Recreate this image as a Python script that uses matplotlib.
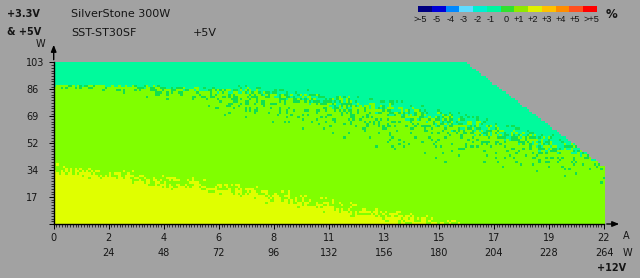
import numpy as np
import matplotlib
matplotlib.use("Agg")
import matplotlib.pyplot as plt
from matplotlib.patches import Rectangle, FancyArrowPatch

# ---------------- data ----------------
amps_pts = [0, 2, 4, 6, 8, 10, 12, 14, 16, 18, 20, 22]              # +12V current (A)
aqua_edge_w = [88.5, 88, 87, 85.5, 84, 80, 76, 71, 64, 57, 50, 44]   # -1% / +1% border (W on 3.3V&5V)
aqua_mix_w = [1, 1, 2, 2, 3, 4, 5, 5, 6, 6, 6, 6]
dots_below_w = [3, 5, 8, 14, 20, 24, 26, 26, 26, 24, 22, 20]         # 0% speckle depth below border
dots_above_w = [0.5, 1, 2, 3, 5, 6, 8, 9, 10, 10, 9, 8]              # 0% speckle depth above border
yellow_edge_w = [35, 31.5, 28, 24, 20, 14.5, 9, 4, -1, -7, -13, -19]  # +1% / +2% border
yellow_mix_w = [4, 4, 5, 5, 5.5, 5.5, 5, 5, 4, 3, 3, 3]
rail_max_w = 103          # max combined 3.3V & 5V load
total_max_w = 300         # total PSU rating
v12 = 12.0

x_major_labels = ["0", "2", "4", "6", "8", "11", "13", "15", "17", "19", "22"]
x_watt_labels = ["", "24", "48", "72", "96", "132", "156", "180", "204", "228", "264"]
y_major_labels = ["", "17", "34", "52", "69", "86", "103"]

legend_labels = [">-5", "-5", "-4", "-3", "-2", "-1", "0", "+1", "+2", "+3", "+4", "+5", ">+5"]
legend_colors = ["#000080", "#0000d8", "#0088ff", "#60dcff", "#00f0d0", "#00f5a0", "#30e030",
                 "#90e800", "#e0f000", "#ffc000", "#ff8c00", "#ff5020", "#ff0000"]
legend_label_px = [420, 437, 451, 464, 478, 491, 506, 519, 533, 547, 561, 575, 591]

c_aqua = "#00fa9c"
c_green = "#10e050"
c_chart = "#80ff00"
c_yellow = "#e0ff00"
bg = "#a2a2a2"
txt = "#151515"
plt.rcParams["font.family"] = ["DejaVu Sans"]

# ---------------- figure ----------------
W_PX, H_PX = 640, 278
fig = plt.figure(figsize=(W_PX / 100, H_PX / 100), dpi=100, facecolor=bg)
fx = lambda px: px / W_PX
fy = lambda py: 1 - py / H_PX

x0, x1, ytop, ybot = 53.7, 604.0, 62.5, 224.0
ax = fig.add_axes([fx(x0), fy(ybot), fx(x1) - fx(x0), (ybot - ytop) / H_PX])
ax.set_facecolor(bg)

amax = 22.0
nx, ny = 240, 72
a_c = (np.arange(nx) + 0.5) * amax / nx
w_c = (np.arange(ny) + 0.5) * rail_max_w / ny
A, Wg = np.meshgrid(a_c, w_c)
I, J = np.meshgrid(np.arange(nx, dtype=np.uint64), np.arange(ny, dtype=np.uint64))

ae = np.interp(A, amps_pts, aqua_edge_w)
am = np.interp(A, amps_pts, aqua_mix_w)
db = np.interp(A, amps_pts, dots_below_w)
da = np.interp(A, amps_pts, dots_above_w)
ye = np.interp(A, amps_pts, yellow_edge_w)
ym = np.interp(A, amps_pts, yellow_mix_w)

# deterministic per-cell dither thresholds (integer hash of cell index), rendering texture only
M32 = np.uint64(0xFFFFFFFF)
def cell_hash(x, y, k):
    h = (x * np.uint64(73856093)) ^ (y * np.uint64(19349663)) ^ np.uint64(k * 83492791)
    h &= M32
    for _ in range(3):
        h ^= h >> np.uint64(16)
        h = (h * np.uint64(0x45D9F3B)) & M32
    h ^= h >> np.uint64(16)
    return h.astype(np.float64) / 4294967296.0

t1 = cell_hash(I, J, 1)
t2 = cell_hash(I, J, 2)
t3 = cell_hash(I, J, 3)

p_aqua = np.clip((Wg - (ae - am)) / (2 * am), 0, 1)
g_below = np.clip(1 - (ae - Wg) / db, 0, 1)
g_above = np.clip(1 - (Wg - ae) / da, 0, 1)
g = 0.32 * np.where(Wg < ae, g_below, g_above)
p_yel = np.clip((ye + ym - Wg) / (2 * ym), 0, 1)

def rgba(c):
    return np.array(matplotlib.colors.to_rgba(c))

img = np.zeros((ny, nx, 4))
img[:] = rgba(c_chart)
img[t1 < p_aqua] = rgba(c_aqua)
img[t2 < g] = rgba(c_green)
img[t3 < p_yel] = rgba(c_yellow)
limit = np.minimum(rail_max_w, total_max_w - v12 * A)
img[Wg > limit] = (0, 0, 0, 0)

ax.imshow(img, origin="lower", extent=[0, amax, 0, rail_max_w], interpolation="nearest",
          aspect="auto", zorder=1)
ax.set_xlim(0, amax)
ax.set_ylim(0, rail_max_w)

for s in ["top", "right"]:
    ax.spines[s].set_visible(False)
for s in ["left", "bottom"]:
    ax.spines[s].set_color("black")
    ax.spines[s].set_linewidth(1.0)
    ax.spines[s].set_zorder(3)

xt = np.arange(11) * amax / 10
ax.set_xticks(xt)
ax.set_xticklabels(x_major_labels)
ax.set_xticks(np.arange(201) * amax / 200, minor=True)
yt = np.arange(7) * rail_max_w / 6
ax.set_yticks(yt)
ax.set_yticklabels(y_major_labels)
ax.set_yticks(np.arange(61) * rail_max_w / 60, minor=True)
ax.tick_params(which="major", length=3.5, width=0.7, color="black", labelsize=7, labelcolor=txt)
ax.tick_params(which="minor", length=2, width=0.5, color="black")
ax.tick_params(axis="x", pad=3)
ax.tick_params(axis="y", pad=16.5)
for lab in ax.get_yticklabels():
    lab.set_horizontalalignment("left")

for xv, lab in zip(xt, x_watt_labels):
    if lab:
        ax.text(xv, (224 - 253) / (ybot - ytop), lab, transform=ax.get_xaxis_transform(),
                ha="center", va="center", fontsize=7, color=txt)

# axis arrows
fig.add_artist(FancyArrowPatch((fx(x0), fy(ytop)), (fx(x0), fy(42)),
               transform=fig.transFigure, arrowstyle="-|>,head_length=4,head_width=1.6",
               color="black", lw=1.0, mutation_scale=1))
fig.add_artist(FancyArrowPatch((fx(x1), fy(ybot)), (fx(622), fy(ybot)),
               transform=fig.transFigure, arrowstyle="-|>,head_length=4,head_width=1.6",
               color="black", lw=1.0, mutation_scale=1))

def ftext(px, py, s, **kw):
    kw.setdefault("fontsize", 7)
    kw.setdefault("color", txt)
    kw.setdefault("va", "center")
    fig.text(fx(px), fy(py), s, **kw)

ftext(7, 14, "+3.3V", fontweight="bold", ha="left")
ftext(7, 32, "& +5V", fontweight="bold", ha="left")
ftext(71, 14, "SilverStone 300W", fontsize=8, ha="left")
ftext(71, 33, "SST-ST30SF", fontsize=8, ha="left")
ftext(193, 33, "+5V", fontsize=8, ha="left")
ftext(40, 44, "W", ha="center")
ftext(626, 236, "A", ha="center")
ftext(627, 253, "W", ha="center")
ftext(612, 268, "+12V", fontweight="bold", ha="center")

# legend
lx0, lx1 = 418.3, 596.7
bw = (lx1 - lx0) / len(legend_colors)
for i, (c, lab, lpx) in enumerate(zip(legend_colors, legend_labels, legend_label_px)):
    fig.add_artist(Rectangle((fx(lx0 + i * bw), fy(11.5)), bw / W_PX, 5.5 / H_PX,
                             transform=fig.transFigure, facecolor=c, edgecolor="none"))
    ftext(lpx, 19.5, lab, ha="center", fontsize=6.6, family=["Liberation Sans"])
ftext(611, 14.5, "%", fontweight="bold", ha="center", fontsize=8.5)

fig.savefig("out.png", dpi=100, facecolor=bg)
